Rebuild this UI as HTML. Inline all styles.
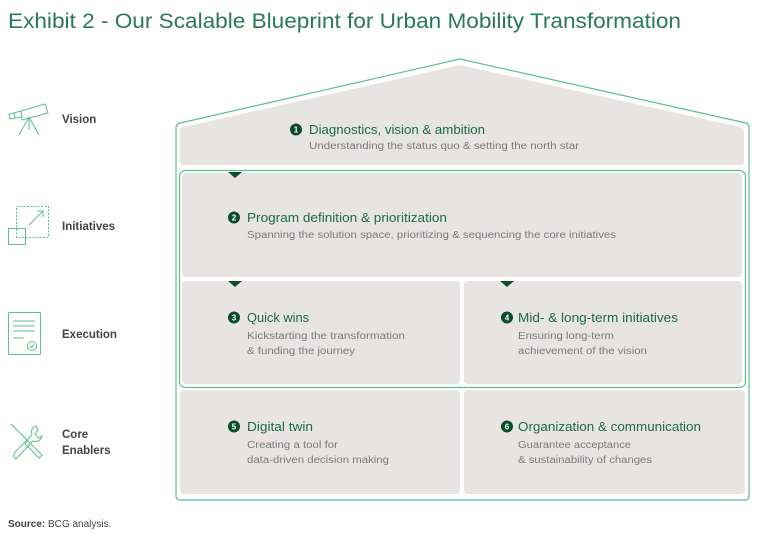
<!DOCTYPE html>
<html><head><meta charset="utf-8"><style>
html,body{margin:0;padding:0;background:#fff;}
svg{display:block;font-family:"Liberation Sans",sans-serif;}
.h{fill:#1d6b45;font-size:12.5px;}
.s{fill:#7a7a7a;font-size:10px;}
.l{fill:#444;font-size:11.5px;font-weight:bold;}
.n{fill:#fff;font-size:8px;font-weight:bold;}
.ic{fill:none;stroke:#5cc08a;stroke-width:1;}
</style></head><body>
<svg width="768" height="544" viewBox="0 0 768 544">
<text x="8" y="28" fill="#2a7a55" font-size="21" textLength="673" lengthAdjust="spacingAndGlyphs">Exhibit 2 - Our Scalable Blueprint for Urban Mobility Transformation</text>

<!-- outer house -->
<path d="M176,128 Q176,124 180,123 L460,59 L746,123 Q749,124 749,128 L749,496 Q749,500 745,500 L180,500 Q176,500 176,496 Z" fill="#fff" stroke="#5cc08a" stroke-width="1.2"/>
<!-- box1 roof -->
<path d="M180,131 Q180,128 184,127 L460,65 L740,127 Q744,128 744,131 L744,162 Q744,165 741,165 L183,165 Q180,165 180,162 Z" fill="#e7e4e3"/>
<!-- inner green box -->
<rect x="179.5" y="170.5" width="566" height="217" rx="6" fill="#fff" stroke="#5cc08a" stroke-width="1.2"/>
<rect x="182" y="173" width="560" height="104" rx="4" fill="#e7e4e3"/>
<rect x="182" y="281" width="278" height="103" rx="4" fill="#e7e4e3"/>
<rect x="464" y="281" width="278" height="103" rx="4" fill="#e7e4e3"/>
<rect x="180" y="390" width="280" height="104" rx="4" fill="#e7e4e3"/>
<rect x="464" y="390" width="281" height="104" rx="4" fill="#e7e4e3"/>
<!-- triangles -->
<path d="M228,172 L242,172 L235,178 Z" fill="#0b4d2b"/>
<path d="M228,281 L242,281 L235,287 Z" fill="#0b4d2b"/>
<path d="M500,281 L514,281 L507,287 Z" fill="#0b4d2b"/>

<!-- texts -->
<circle cx="296" cy="129.5" r="6" fill="#0b4d2b"/><text class="n" x="296" y="132.5" text-anchor="middle">1</text>
<text class="h" x="309" y="134" textLength="176" lengthAdjust="spacingAndGlyphs">Diagnostics, vision &amp; ambition</text>
<text class="s" x="309" y="149" textLength="270" lengthAdjust="spacingAndGlyphs">Understanding the status quo &amp; setting the north star</text>

<circle cx="234" cy="217.5" r="6" fill="#0b4d2b"/><text class="n" x="234" y="220.5" text-anchor="middle">2</text>
<text class="h" x="247" y="222" textLength="200" lengthAdjust="spacingAndGlyphs">Program definition &amp; prioritization</text>
<text class="s" x="247" y="238" textLength="369" lengthAdjust="spacingAndGlyphs">Spanning the solution space, prioritizing &amp; sequencing the core initiatives</text>

<circle cx="234" cy="317.5" r="6" fill="#0b4d2b"/><text class="n" x="234" y="320.5" text-anchor="middle">3</text>
<text class="h" x="247" y="322" textLength="62" lengthAdjust="spacingAndGlyphs">Quick wins</text>
<text class="s" x="247" y="339" textLength="158" lengthAdjust="spacingAndGlyphs">Kickstarting the transformation</text>
<text class="s" x="247" y="354" textLength="108" lengthAdjust="spacingAndGlyphs">&amp; funding the journey</text>

<circle cx="507" cy="317.5" r="6" fill="#0b4d2b"/><text class="n" x="507" y="320.5" text-anchor="middle">4</text>
<text class="h" x="518" y="322" textLength="160" lengthAdjust="spacingAndGlyphs">Mid- &amp; long-term initiatives</text>
<text class="s" x="518" y="339" textLength="96" lengthAdjust="spacingAndGlyphs">Ensuring long-term</text>
<text class="s" x="518" y="354" textLength="129" lengthAdjust="spacingAndGlyphs">achievement of the vision</text>

<circle cx="234" cy="426.5" r="6" fill="#0b4d2b"/><text class="n" x="234" y="429.5" text-anchor="middle">5</text>
<text class="h" x="247" y="431" textLength="66" lengthAdjust="spacingAndGlyphs">Digital twin</text>
<text class="s" x="247" y="448" textLength="91" lengthAdjust="spacingAndGlyphs">Creating a tool for</text>
<text class="s" x="247" y="463" textLength="142" lengthAdjust="spacingAndGlyphs">data-driven decision making</text>

<circle cx="507" cy="426.5" r="6" fill="#0b4d2b"/><text class="n" x="507" y="429.5" text-anchor="middle">6</text>
<text class="h" x="518" y="431" textLength="183" lengthAdjust="spacingAndGlyphs">Organization &amp; communication</text>
<text class="s" x="518" y="448" textLength="113" lengthAdjust="spacingAndGlyphs">Guarantee acceptance</text>
<text class="s" x="518" y="463" textLength="134" lengthAdjust="spacingAndGlyphs">&amp; sustainability of changes</text>

<!-- left labels -->
<text class="l" x="62" y="123">Vision</text>
<text class="l" x="62" y="230">Initiatives</text>
<text class="l" x="62" y="338">Execution</text>
<text class="l" x="62" y="438">Core</text>
<text class="l" x="62" y="454">Enablers</text>
<text x="8" y="527" font-size="10" fill="#444"><tspan font-weight="bold">Source:</tspan> BCG analysis.</text>

<!-- icons -->
<g class="ic">
<path d="M9,114 L14,113 L15,118 L10,119 Z M14,113 L21,111 L22,117 L15,118 M21,111 L45,104 L48,113 L22,120 Z"/>
<path d="M29,117 L19,135 M29,117 L39,135 M29,117 L29,130"/>
<rect x="16.5" y="206.5" width="32" height="31" stroke-dasharray="2,1.5"/>
<rect x="8.5" y="228.5" width="17" height="16"/>
<path d="M29,225 L43,211 M37,211 L43,211 L43,217"/>
<rect x="8.5" y="312.5" width="32" height="42" rx="1"/>
<path d="M13,321 L35,321 M13,326 L35,326 M13,331 L35,331 M13,338 L24,338"/>
<circle cx="32" cy="346" r="4.5"/><path d="M30,346 L31.5,347.5 L34,344.5"/>
<path d="M11,424 L28,441 M28,441 L36,449 L42,455 L39,458 L33,452 L25,444 Z"/>
<path d="M36,426 Q30,428 32,435 L15,452 Q12,457 16,459 L33,441 Q40,443 42,436 L39,438 L35,434 L38,430 Z"/>
</g>
</svg>
</body></html>
